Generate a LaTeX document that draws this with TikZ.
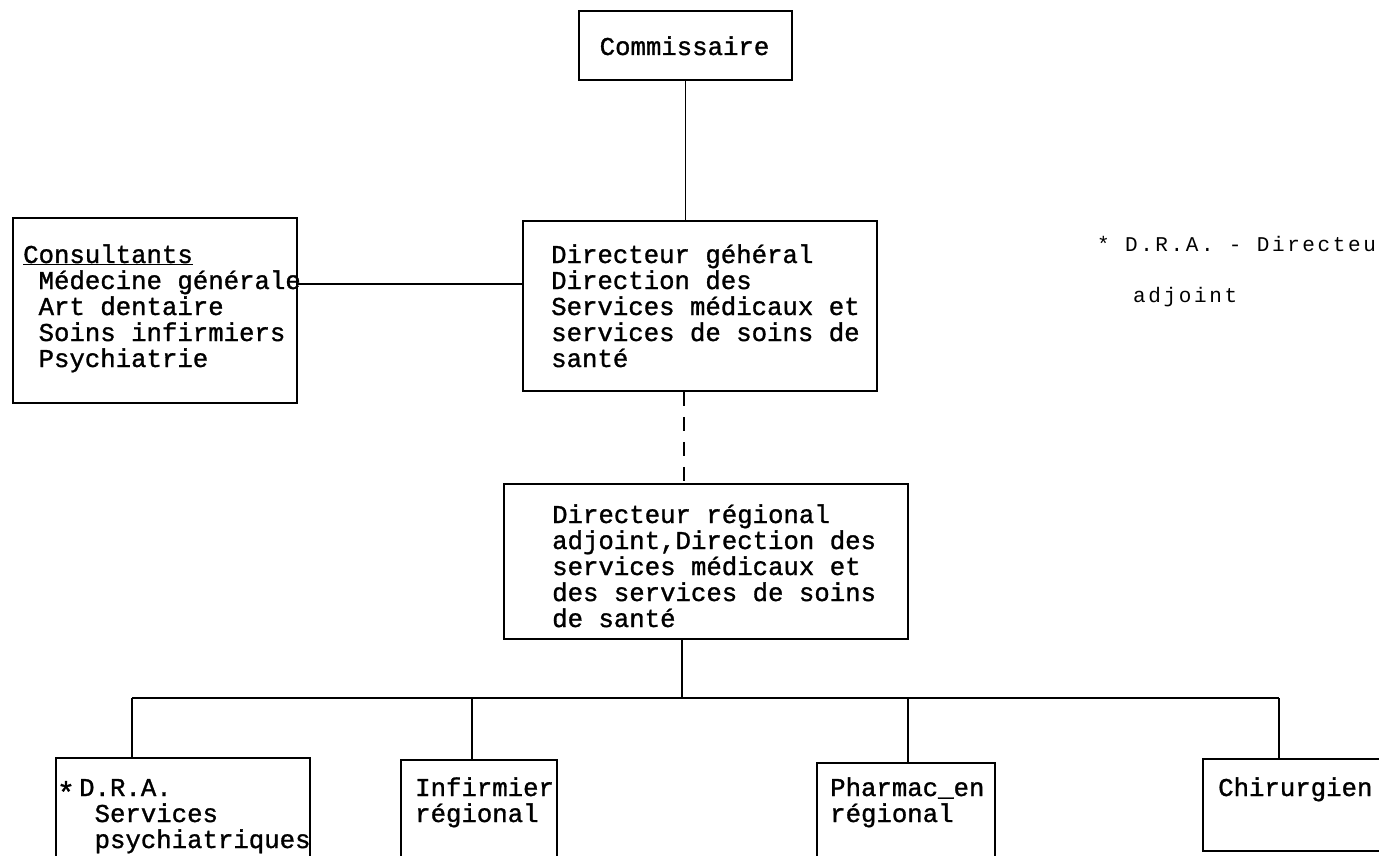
\documentclass[tikz,border=0pt]{standalone}
\usepackage{fontspec}
\newfontfamily\twfont[FakeBold=1.2]{Liberation Mono}
\newfontfamily\legfont[LetterSpace=12.5]{Liberation Mono}
\newcommand\myind{\hphantom{M}}
\begin{document}
\begin{tikzpicture}[x=1pt,y=-1pt,
  box/.style={draw, line width=1.8pt, inner sep=0pt, anchor=north west},
  lbl/.style={anchor=base west, align=left, inner sep=0pt, font=\twfont\fontsize{25.7}{26}\selectfont},
  leg/.style={anchor=base west, inner sep=0pt, font=\legfont\fontsize{21}{26}\selectfont},
  link/.style={line width=1.8pt},
  dlink/.style={line width=1.8pt, dash pattern=on 14pt off 11pt}]
\useasboundingbox (0,0) rectangle (1379,856);
% boxes
\node[box, minimum width=213pt, minimum height=69pt] (comm) at (578,10) {};
\node[box, minimum width=354pt, minimum height=170pt] (dg) at (522,220) {};
\node[box, minimum width=284pt, minimum height=185pt] (cons) at (12,217) {};
\node[box, minimum width=404pt, minimum height=155pt] (dra) at (503,483) {};
\node[box, minimum width=254pt, minimum height=120pt] (b1) at (55,757) {};
\node[box, minimum width=156pt, minimum height=120pt] (b2) at (400,759) {};
\node[box, minimum width=178pt, minimum height=120pt] (b3) at (816,762) {};
\node[box, minimum width=200pt, minimum height=92pt] (b4) at (1202,758) {};
% texts (anchor = baseline of the last line)
\node[lbl, anchor=base] (tcomm) at (684.5,55) {Commissaire};
\node[lbl] (tdg) at (551,367) {Directeur géhéral\\Direction des\\Services médicaux et\\services de soins de\\santé};
\node[lbl] (tcons) at (23,367) {\underline{Consultants}\\\myind Médecine générale\\\myind Art dentaire\\\myind Soins infirmiers\\\myind Psychiatrie};
\node[lbl] (tdra) at (552,627) {Directeur régional\\adjoint,Direction des\\services médicaux et\\des services de soins\\de santé};
\node[lbl, font=\twfont\fontsize{30}{30}\selectfont, anchor=center] (star) at (66,792) {*};
\node[lbl] (tb1) at (79,848) {D.R.A.\\\myind Services\\\myind psychiatriques};
\node[lbl] (tb2) at (415,822) {Infirmier\\régional};
\node[lbl] (tb3) at (830,822) {Pharmac\_en\\régional};
\node[lbl] (tb4) at (1218,796) {Chirurgien};
\node[leg] (l1) at (1097,251) {* D.R.A. - Directeu};
\node[leg] (l2) at (1133,302) {adjoint};
% connector coordinates
\coordinate (c1) at (0,284);
\coordinate (ax) at (684,0);
\coordinate (bus) at (682,698);
\coordinate (v1) at (132,698);
\coordinate (v2) at (472,698);
\coordinate (v3) at (908,698);
\coordinate (v4) at (1279,698);
% connectors
\draw[link] (comm.south) -- (comm.south |- dg.north);
\draw[link] (cons.east |- c1) -- (dg.west |- c1);
\draw[dlink] (dg.south -| ax) -- (dra.north -| ax);
\draw[link] (dra.south -| bus) -- (bus);
\draw[link] (v1) -- (v4);
\draw[link] (v1) -- (v1 |- b1.north);
\draw[link] (v2) -- (v2 |- b2.north);
\draw[link] (v3) -- (v3 |- b3.north);
\draw[link] (v4) -- (v4 |- b4.north);
\end{tikzpicture}
\end{document}
